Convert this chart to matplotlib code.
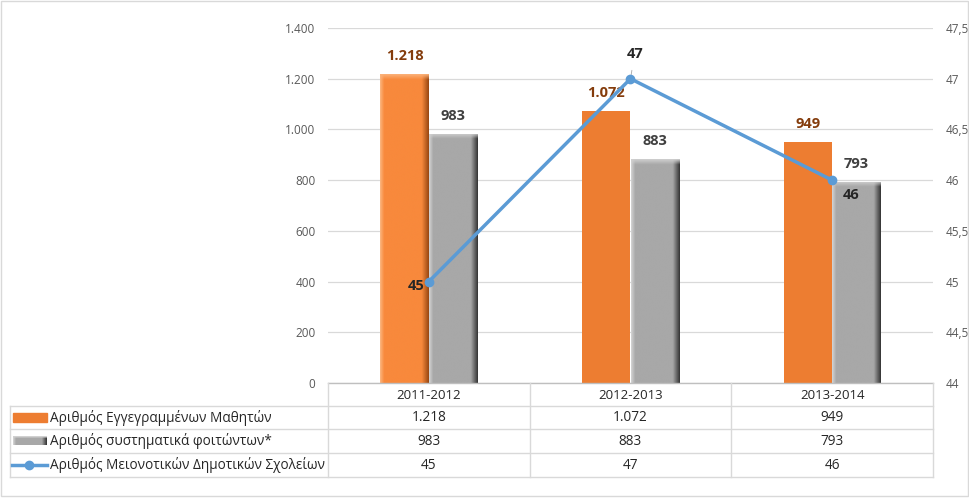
import matplotlib
matplotlib.use('Agg')
import matplotlib.pyplot as plt
import numpy as np
from matplotlib.colors import to_rgb

plt.rcParams['font.family'] = ['Open Sans', 'DejaVu Sans']

# Data
years = ['2011-2012', '2012-2013', '2013-2014']
students = [1218, 1072, 949]
regular = [983, 883, 793]
schools = [45, 47, 46]
series_names = ['Αριθμός Εγγεγραμμένων Μαθητών',
                'Αριθμός συστηματικά φοιτώντων*',
                'Αριθμός Μειονοτικών Δημοτικών Σχολείων']
left_ticks = [0, 200, 400, 600, 800, 1000, 1200, 1400]
right_ticks = [44, 44.5, 45, 45.5, 46, 46.5, 47, 47.5]

orange = '#ED7D31'
gray = '#A5A5A5'
blue = '#5B9BD5'
grid_col = '#D9D9D9'
tick_col = '#595959'


def gr(v):
    # Greek number format: 1.218 / 47,5
    if float(v).is_integer():
        return f'{int(v):,}'.replace(',', '.')
    return f'{v}'.replace('.', ',')


def bevel_image(h, base, light, dark, bevel_rows=22, cols=48):
    base, light, dark = np.array(to_rgb(base)), np.array(to_rgb(light)), np.array(to_rgb(dark))
    rows = max(int(h), bevel_rows + 2)
    t = np.linspace(0, 1, cols)
    prof = np.ones((cols, 3)) * base
    lm = t < 0.08
    prof[lm] = light + (base - light) * (t[lm] / 0.08)[:, None]
    rm = t > 0.86
    prof[rm] = base + (dark - base) * ((t[rm] - 0.86) / 0.14)[:, None]
    img = np.tile(prof, (rows, 1, 1))
    top = np.linspace(0, 1, bevel_rows)
    for i in range(bevel_rows):
        img[rows - 1 - i] = img[rows - 1 - i] * top[i] + light * (1 - top[i])
    return img


fig = plt.figure(figsize=(9.7, 4.98), dpi=100)
ax = fig.add_axes([328 / 970, 1 - 383 / 498, 605 / 970, 355 / 498])
ax2 = ax.twinx()

x = np.arange(len(years))
w = 0.24
b1 = ax.bar(x - w / 2, students, w, color=orange, zorder=2)
b2 = ax.bar(x + w / 2, regular, w, color=gray, zorder=2)

# bevel effect on the gray bars and the first orange bar
for p in list(b2) + [b1[0]]:
    x0, h, bw = p.get_x(), p.get_height(), p.get_width()
    if p in b2:
        img = bevel_image(h, '#A8A8A8', '#D0D0D0', '#3A3A3A')
    else:
        img = bevel_image(h, '#F8893C', '#FBB27A', '#9C4A14')
    im = ax.imshow(img, extent=(x0, x0 + bw, 0, h), origin='lower',
                   aspect='auto', zorder=3, interpolation='bilinear')
    im.set_clip_path(p)

for p, v in zip(b1, students):
    ax.annotate(gr(v), (p.get_x() + p.get_width() / 2, v), xytext=(0, 8),
                textcoords='offset points', ha='center', va='bottom',
                fontsize=10.5, fontweight='bold', color='#843C0C', zorder=6)
for p, v in zip(b2, regular):
    ax.annotate(gr(v), (p.get_x() + p.get_width() / 2, v), xytext=(0, 8),
                textcoords='offset points', ha='center', va='bottom',
                fontsize=10.5, fontweight='bold', color='#404040', zorder=6)

ax.set_xlim(-0.5, 2.5)
ax.set_ylim(0, 1400)
ax.set_yticks(left_ticks)
ax.set_yticklabels([gr(t) for t in left_ticks])
ax.yaxis.grid(True, color=grid_col, linewidth=0.9, zorder=0)
ax.set_axisbelow(True)
ax.set_xticks([])
ax.tick_params(axis='y', length=0, pad=9, labelsize=8.5, labelcolor=tick_col)

ax2.plot(x, schools, color=blue, linewidth=2.5, marker='o', markersize=6, zorder=5)
ax2.set_ylim(44, 47.5)
ax2.set_yticks(right_ticks)
ax2.set_yticklabels([gr(t) for t in right_ticks])
ax2.tick_params(axis='y', length=0, pad=9, labelsize=8.5, labelcolor=tick_col)

for a in (ax, ax2):
    for s in a.spines.values():
        s.set_visible(False)

lab_kw = dict(textcoords='offset points', fontsize=10.5, fontweight='bold', color='#262626')
ax2.annotate(gr(schools[0]), (x[0], schools[0]), xytext=(-9, -3), ha='center', va='center', **lab_kw)
ax2.annotate(gr(schools[1]), (x[1], schools[1]), xytext=(3, 18), ha='center', va='center',
             arrowprops=dict(arrowstyle='-', color='#A6A6A6', lw=0.6, shrinkA=5, shrinkB=3), **lab_kw)
ax2.annotate(gr(schools[2]), (x[2], schools[2]), xytext=(14, -11), ha='center', va='center', **lab_kw)

# Data table drawn in pixel coordinates
tb = fig.add_axes([0, 0, 1, 1], zorder=10)
tb.set_xlim(0, 970)
tb.set_ylim(498, 0)
tb.axis('off')
tb.patch.set_alpha(0)

col_edges = [328 + i * 605 / 3 for i in range(4)]
row_edges = [383, 406, 429, 453, 477]
lc = '#D9D9D9'
# header row
tb.plot([col_edges[0], col_edges[-1]], [row_edges[0]] * 2, color='#BFBFBF', lw=1)
tb.plot([10, col_edges[-1]], [row_edges[1]] * 2, color=lc, lw=1)
for r in row_edges[2:]:
    tb.plot([10, col_edges[-1]], [r, r], color=lc, lw=1)
tb.plot([10, 10], [row_edges[1], row_edges[-1]], color=lc, lw=1)
for c in col_edges:
    tb.plot([c, c], [row_edges[0], row_edges[-1]], color=lc, lw=1)

for i, yr in enumerate(years):
    cx = (col_edges[i] + col_edges[i + 1]) / 2
    tb.text(cx, (row_edges[0] + row_edges[1]) / 2 + 1, yr, ha='center', va='center',
            fontsize=9.5, color='#262626')

rows = [students, regular, schools]
for r, (name, vals) in enumerate(zip(series_names, rows)):
    yc = (row_edges[r + 1] + row_edges[r + 2]) / 2
    tb.text(50, yc, name, ha='left', va='center', fontsize=9.8, color='#262626')
    for i, v in enumerate(vals):
        cx = (col_edges[i] + col_edges[i + 1]) / 2
        tb.text(cx, yc, gr(v), ha='center', va='center', fontsize=9.8, color='#262626')

# legend keys
y1 = (row_edges[1] + row_edges[2]) / 2
tb.add_patch(plt.Rectangle((13, y1 - 4.5), 34, 9, color=orange))
y2 = (row_edges[2] + row_edges[3]) / 2
key = bevel_image(9, '#A8A8A8', '#D0D0D0', '#3A3A3A', bevel_rows=3, cols=34)
tb.imshow(key[::-1], extent=(13, 47, y2 + 4.5, y2 - 4.5), aspect='auto', zorder=3)
y3 = (row_edges[3] + row_edges[4]) / 2
tb.plot([12, 47], [y3, y3], color=blue, lw=2.5)
tb.plot([29.5], [y3], marker='o', color=blue, markersize=6)

# outer frame
tb.add_patch(plt.Rectangle((0.5, 0.5), 968, 495, fill=False, ec='#D9D9D9', lw=1))

fig.savefig('out.png', dpi=100)
